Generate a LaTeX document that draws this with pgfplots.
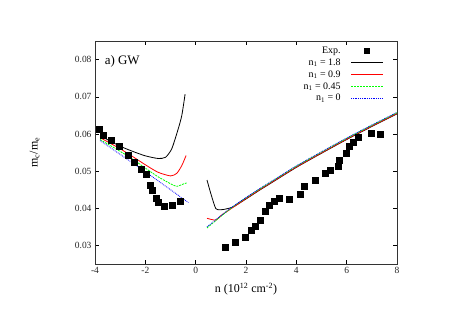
\documentclass[border=0pt]{standalone}
\usepackage{fontspec}
\setmainfont{Liberation Serif}
\usepackage{pgfplots}
\pgfplotsset{compat=1.18}

\begin{document}
\begin{tikzpicture}
\begin{axis}[
  at={(0,0)}, anchor=south west,
  scale only axis,
  width=302bp, height=223bp,
  xmin=-4, xmax=8, ymin=0.025, ymax=0.085,
  xtick={-4,-2,...,8},
  ytick={0.03,0.04,...,0.081},
  scaled y ticks=false,
  yticklabel style={/pgf/number format/fixed, /pgf/number format/fixed zerofill, /pgf/number format/precision=2},
  /pgf/number format/assume math mode=true,
  tick align=inside,
  tick style={black, line width=0.5pt},
  major tick length=4bp,
  axis line style={black!80, line width=0.8pt},
  ticklabel style={font=\fontsize{9.5}{10}\selectfont, text=black!85},
  xlabel={n (10\textsuperscript{12} cm\textsuperscript{-2})},
  ylabel={m\textsubscript{c}/m\textsubscript{e}},
  label style={font=\fontsize{12}{13}\selectfont},
  ylabel style={at={(axis description cs:-0.2,0.5)}, rotate=0, anchor=center},
  xlabel style={yshift=-2bp},
]
\addplot[only marks, mark=square*, mark size=3bp, black] coordinates {
  (-3.85,0.0613) (-3.67,0.0596) (-3.34,0.0583) (-3.03,0.0568) (-2.70,0.0544)
  (-2.43,0.0523) (-2.17,0.0505) (-1.95,0.0491) (-1.79,0.0462) (-1.71,0.0449)
  (-1.55,0.0428) (-1.49,0.0416) (-1.25,0.0405) (-0.93,0.0409) (-0.62,0.0419)
  (1.19,0.0296) (1.57,0.0310) (1.97,0.0323) (2.21,0.0341) (2.38,0.0353)
  (2.58,0.0367) (2.77,0.0391) (2.93,0.0407) (3.13,0.0418) (3.31,0.0428)
  (3.71,0.0424) (4.17,0.0439) (4.33,0.0459) (4.73,0.0476) (5.13,0.0493)
  (5.35,0.0503) (5.66,0.0514) (5.72,0.0530) (5.97,0.0547) (6.12,0.0568)
  (6.25,0.0577) (6.46,0.0590) (6.99,0.0602) (7.32,0.0598)
};
% left branch
\addplot[black, line width=0.8pt, smooth, tension=0.4] coordinates {
  (-3.8,0.0595) (-3.0,0.0567) (-2.5,0.0553) (-2.0,0.0541) (-1.5,0.0534)
  (-1.2,0.0537) (-0.95,0.0560) (-0.7,0.0612) (-0.55,0.0650) (-0.42,0.0707)
};
\addplot[red, line width=0.8pt, smooth, tension=0.4] coordinates {
  (-3.8,0.0590) (-3.0,0.0560) (-2.5,0.0539) (-2.0,0.0517) (-1.5,0.0497)
  (-1.0,0.0487) (-0.75,0.0494) (-0.55,0.0515) (-0.38,0.0542)
};
\addplot[green, line width=0.8pt, dash pattern=on 2pt off 1pt, smooth, tension=0.4] coordinates {
  (-3.8,0.0585) (-3.0,0.0553) (-2.5,0.0532) (-2.0,0.0508) (-1.5,0.0485)
  (-1.0,0.0466) (-0.75,0.0459) (-0.5,0.0465) (-0.36,0.0468)
};
\addplot[blue, line width=0.8pt, dash pattern=on 0.8pt off 1pt] coordinates {
  (-3.8,0.0582) (-3.0,0.0545) (-2.0,0.0498) (-1.0,0.0450) (-0.29,0.0415)
};
% right branch
\addplot[black, line width=0.8pt, smooth, tension=0.4] coordinates {
  (0.45,0.0476) (0.6,0.0440) (0.8,0.0399) (1.0,0.0396) (1.2,0.0398) (1.5,0.0404)
  (2.0,0.0425) (2.5,0.0447) (3.0,0.0468) (4.0,0.0510) (5.0,0.0548) (6.0,0.0585)
  (7.0,0.0620) (8.0,0.0654)
};
\addplot[red, line width=0.8pt, smooth, tension=0.4] coordinates {
  (0.45,0.0373) (0.8,0.0368) (1.0,0.0380) (1.5,0.0403)
  (2.0,0.0426) (2.5,0.0448) (3.0,0.0469) (4.0,0.0511) (5.0,0.0549) (6.0,0.0586)
  (7.0,0.0621) (8.0,0.0655)
};
\addplot[green, line width=0.8pt, dash pattern=on 2pt off 1pt, smooth, tension=0.4] coordinates {
  (0.45,0.0347) (1.0,0.0378) (1.5,0.0405)
  (2.0,0.0428) (2.5,0.0450) (3.0,0.0471) (4.0,0.0513) (5.0,0.0551) (6.0,0.0588)
  (7.0,0.0623) (8.0,0.0657)
};
\addplot[blue, line width=0.8pt, dash pattern=on 0.8pt off 1pt, smooth, tension=0.4] coordinates {
  (0.45,0.0350) (1.0,0.0380) (1.5,0.0406)
  (2.0,0.0429) (2.5,0.0451) (3.0,0.0472) (4.0,0.0514) (5.0,0.0552) (6.0,0.0589)
  (7.0,0.0624) (8.0,0.0658)
};
\node[anchor=west, font=\fontsize{13}{14}\selectfont] at (axis cs:-3.75,0.0795) {a) GW};
% legend, gnuplot style (text left, sample right)
\begin{scope}[font=\fontsize{10}{11}\selectfont]
  \node[anchor=east] at (rel axis cs:0.825,0.955) {Exp.};
  \fill[black] ([xshift=-3bp,yshift=-3bp]rel axis cs:0.900,0.955) rectangle ([xshift=3bp,yshift=3bp]rel axis cs:0.900,0.955);
  \node[anchor=east] at (rel axis cs:0.825,0.902) {n\textsubscript{1} = 1.8};
  \draw[black, line width=0.8pt] (rel axis cs:0.848,0.902) -- (rel axis cs:0.954,0.902);
  \node[anchor=east] at (rel axis cs:0.825,0.849) {n\textsubscript{1} = 0.9};
  \draw[red, line width=0.8pt] (rel axis cs:0.848,0.849) -- (rel axis cs:0.954,0.849);
  \node[anchor=east] at (rel axis cs:0.825,0.796) {n\textsubscript{1} = 0.45};
  \draw[green, line width=0.8pt, dash pattern=on 2pt off 1pt] (rel axis cs:0.848,0.796) -- (rel axis cs:0.954,0.796);
  \node[anchor=east] at (rel axis cs:0.825,0.743) {n\textsubscript{1} = 0};
  \draw[blue, line width=0.8pt, dash pattern=on 0.8pt off 1pt] (rel axis cs:0.848,0.743) -- (rel axis cs:0.954,0.743);
\end{scope}
\end{axis}
\path[use as bounding box] (-95bp,-59bp) rectangle (362bp,264bp);
\end{tikzpicture}
\end{document}
